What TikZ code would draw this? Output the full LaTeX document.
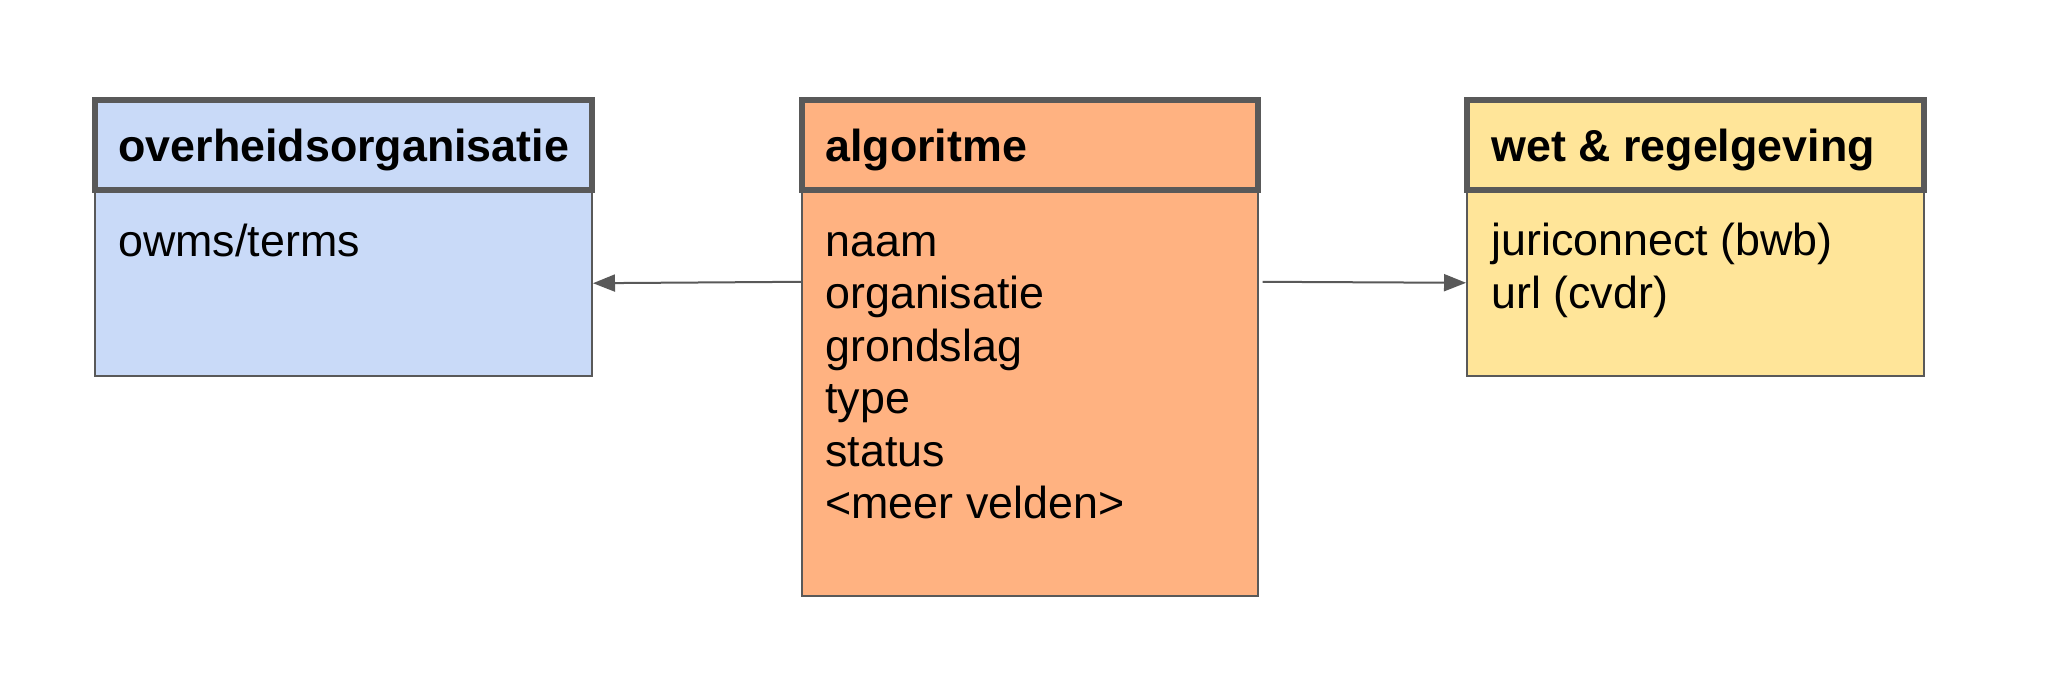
\documentclass[tikz,border=0pt]{standalone}
\usepackage{fontspec}
\setmainfont{Liberation Sans}
\usetikzlibrary{arrows.meta}
\definecolor{lineg}{HTML}{595959}
\definecolor{cblue}{HTML}{C9DAF8}
\definecolor{corange}{HTML}{FFB281}
\definecolor{cyellow}{HTML}{FFE599}
\begin{document}
\begin{tikzpicture}[x=0.5pt,y=-0.5pt,
  body/.style={draw=lineg, line width=1pt, rectangle, inner sep=0pt},
  hdr/.style={draw=lineg, line width=3pt, rectangle, inner sep=0pt, minimum height=45pt},
  ttl/.style={anchor=base west, inner sep=0pt, font=\fontsize{22.4pt}{26.2pt}\selectfont\bfseries},
  fld/.style={anchor=base west, inner sep=0pt, font=\fontsize{22.4pt}{26.2pt}\selectfont},
  conn/.style={draw=lineg, line width=1pt, -{Triangle[length=11pt,width=8.5pt]}}]
\useasboundingbox[fill=white] (0,0) rectangle (2064,686);

% left entity
\node[body, fill=cblue, minimum width=248.5pt, minimum height=93pt] (lbody) at (343.5,283) {};
\node[hdr, fill=cblue, minimum width=248.5pt] (lhdr) at (343.5,145) {};
\node[ttl] (ltitle) at (118,161.7) {overheidsorganisatie};
\node[fld] (l1) at (118,256.5) {owms/terms};

% middle entity
\node[body, fill=corange, minimum width=228pt, minimum height=203pt] (abody) at (1030,393) {};
\node[hdr, fill=corange, minimum width=228pt] (ahdr) at (1030,145) {};
\node[ttl] (atitle) at (825,161.7) {algoritme};
\foreach \t [count=\i] in {naam, organisatie, grondslag, type, status, <meer velden>}
  \node[fld] (a\i) at (825,{204.1+52.4*\i}) {\t};

% right entity
\node[body, fill=cyellow, minimum width=228.5pt, minimum height=93pt] (rbody) at (1695.5,283) {};
\node[hdr, fill=cyellow, minimum width=228.5pt] (rhdr) at (1695.5,145) {};
\node[ttl] (rtitle) at (1491,161.7) {wet \& regelgeving};
\node[fld] (r1) at (1491,255.5) {juriconnect (bwb)};
\node[fld] (r2) at (1491,308) {url (cvdr)};

% connectors
\draw[conn] ([yshift=55.6pt]abody.west) -- ([yshift=-0.1pt]lbody.east);
\draw[conn] ([xshift=1.8pt,yshift=55.6pt]abody.east) -- ([yshift=0.1pt]rbody.west);
\end{tikzpicture}
\end{document}
